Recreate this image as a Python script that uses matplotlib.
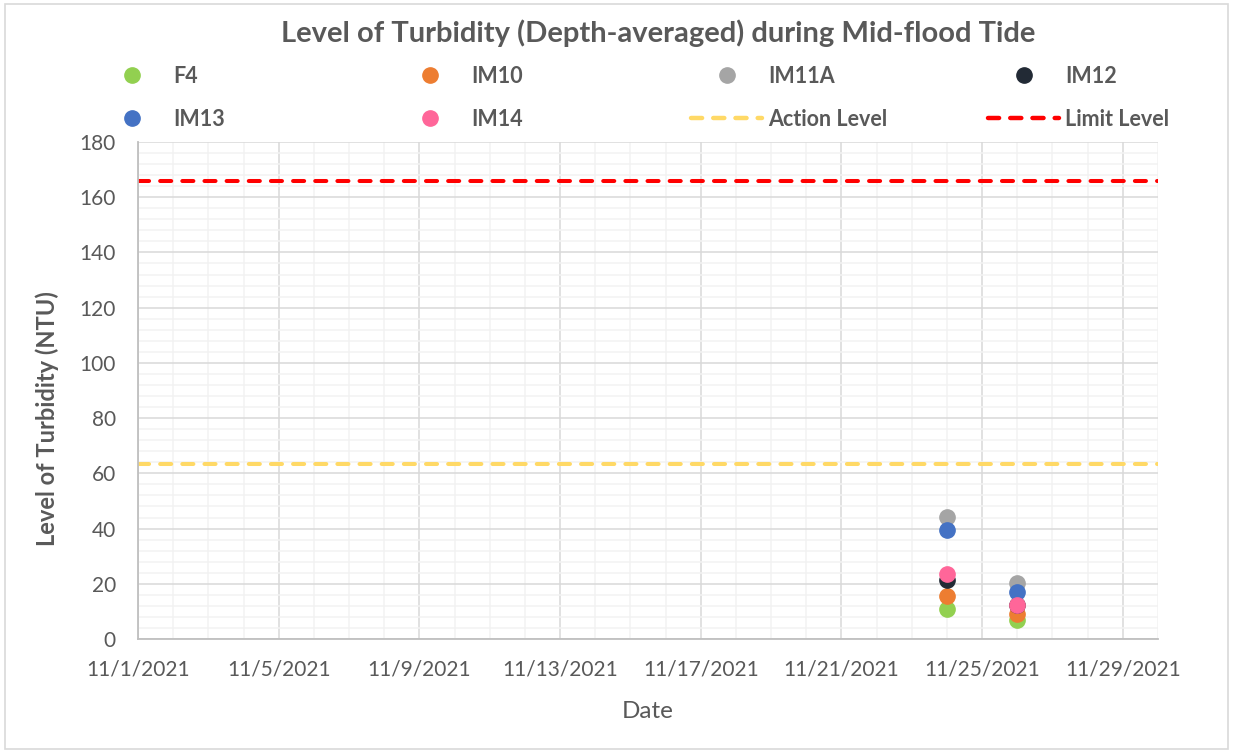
import matplotlib
matplotlib.use("Agg")
import matplotlib.pyplot as plt
import matplotlib.dates as mdates
from matplotlib.lines import Line2D
from matplotlib.patches import Rectangle
from datetime import datetime

dates = [datetime(2021, 11, 24), datetime(2021, 11, 26)]
stations = ["F4", "IM10", "IM11A", "IM12", "IM13", "IM14"]
values = {
    "F4":    [10.9, 6.9],
    "IM10":  [15.6, 9.1],
    "IM11A": [44.3, 20.4],
    "IM12":  [21.4, 12.3],
    "IM13":  [39.5, 17.1],
    "IM14":  [23.7, 12.3],
}
colors = {
    "F4": "#92D050", "IM10": "#ED7D31", "IM11A": "#A5A5A5",
    "IM12": "#222A35", "IM13": "#4472C4", "IM14": "#FF6699",
}
action_level = 63.2
limit_level = 165.9
x_start = datetime(2021, 11, 1)
x_end = datetime(2021, 11, 30)
y_max = 180

FONT = "Lato"
TXT = "#595959"
W, H = 1233, 753

fig = plt.figure(figsize=(12.33, 7.53), dpi=100)
fig.patches.append(Rectangle((0.004, 0.005), 0.992, 0.99, transform=fig.transFigure,
                             fill=False, edgecolor="#D9D9D9", linewidth=1.2))
ax = fig.add_axes([138/W, 1-639/H, (1158-138)/W, (639-142)/H])

ax.set_xlim(mdates.date2num(x_start), mdates.date2num(x_end))
ax.set_ylim(0, y_max)

ax.xaxis.set_major_locator(mdates.DayLocator(bymonthday=[1, 5, 9, 13, 17, 21, 25, 29]))
ax.xaxis.set_minor_locator(mdates.DayLocator())
ax.xaxis.set_major_formatter(mdates.DateFormatter("%-m/%-d/%Y"))
ax.yaxis.set_major_locator(plt.MultipleLocator(20))
ax.yaxis.set_minor_locator(plt.MultipleLocator(4))

ax.grid(which="major", color="#D9D9D9", linewidth=1.1)
ax.grid(which="minor", color="#F2F2F2", linewidth=1.1)
ax.set_axisbelow(True)
for s in ["top", "right"]:
    ax.spines[s].set_visible(False)
for s in ["left", "bottom"]:
    ax.spines[s].set_color("#BFBFBF")
    ax.spines[s].set_linewidth(1.3)
ax.tick_params(which="both", length=0, colors=TXT, labelsize=15)
ax.tick_params(axis="y", pad=16)
ax.tick_params(axis="x", pad=15)
for lab in ax.get_xticklabels() + ax.get_yticklabels():
    lab.set_fontfamily(FONT)

for st in stations:
    ax.plot(dates, values[st], linestyle="none", marker="o", markersize=11,
            color=colors[st], zorder=3)

ax.axhline(action_level, color="#FFD966", linewidth=2.9, dashes=(2.75, 2.75),
           dash_capstyle="round", zorder=2)
ax.axhline(limit_level, color="#FF0000", linewidth=2.9, dashes=(2.75, 2.75),
           dash_capstyle="round", zorder=2)

ax.set_xlabel("Date", fontsize=17.5, color=TXT, fontfamily=FONT)
ax.set_ylabel("Level of Turbidity (NTU)", fontsize=17, color=TXT, fontfamily=FONT,
              fontweight="bold")
ax.xaxis.set_label_coords((648-138)/1020, -(711-639)/497)
ax.yaxis.set_label_coords(-(138-47)/1020, (639-419)/497)
ax.xaxis.label.set_va("center")
ax.yaxis.label.set_va("center")

fig.text(658/W, 1-33/H, "Level of Turbidity (Depth-averaged) during Mid-flood Tide",
         ha="center", va="center", fontsize=21, fontweight="bold", color=TXT,
         fontfamily=FONT)

def mk(st):
    return Line2D([], [], linestyle="none", marker="o", markersize=11, color=colors[st])

action_h = Line2D([], [], color="#FFD966", linewidth=3.2, dashes=(2.5, 2.5), dash_capstyle="round")
limit_h = Line2D([], [], color="#FF0000", linewidth=3.2, dashes=(2.5, 2.5), dash_capstyle="round")
columns = [
    ([mk("F4"), mk("IM13")], ["F4", "IM13"], 132),
    ([mk("IM10"), mk("IM14")], ["IM10", "IM14"], 430),
    ([mk("IM11A"), action_h], ["IM11A", "Action Level"], 727),
    ([mk("IM12"), limit_h], ["IM12", "Limit Level"], 1024),
]
fs_leg = 15.5
for hs, ls, cx in columns:
    leg = fig.legend(hs, ls, loc="upper left",
                     bbox_to_anchor=((cx - 36)/W, 1-66/H), frameon=False,
                     prop={"family": FONT, "weight": "bold", "size": fs_leg},
                     handlelength=3.3, handletextpad=0.3,
                     labelspacing=1.0, borderpad=0, borderaxespad=0)
    for t in leg.get_texts():
        t.set_color(TXT)

fig.savefig("out.png", dpi=100)
